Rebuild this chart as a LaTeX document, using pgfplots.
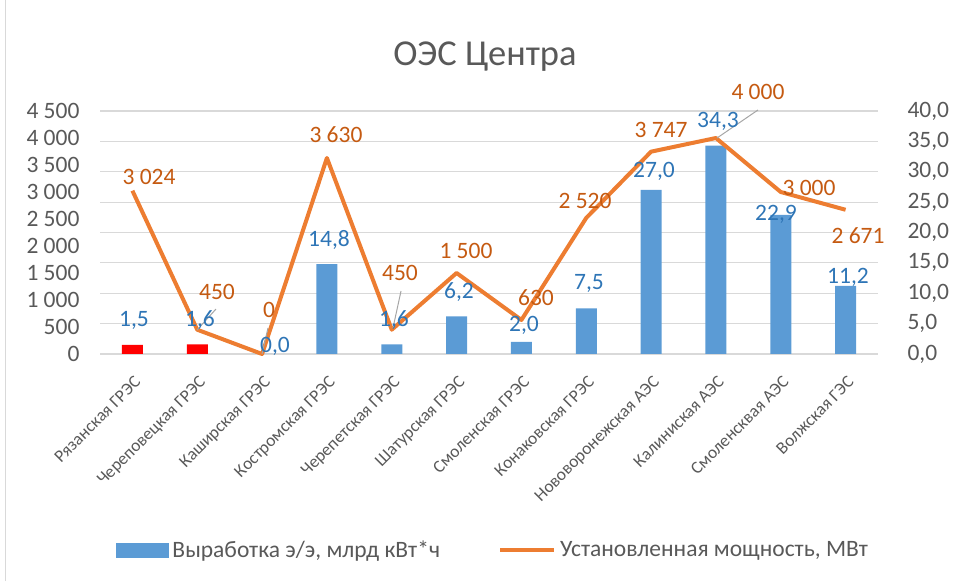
\documentclass[border=0pt]{standalone}
\usepackage{pgfplots}
\pgfplotsset{compat=1.18}
\usepackage{fontspec}
\setmainfont{Carlito}
\definecolor{barblue}{HTML}{5B9BD5}
\definecolor{barred}{HTML}{FF0000}
\definecolor{lineor}{HTML}{ED7D31}
\definecolor{bluelab}{HTML}{2E75B6}
\definecolor{orlab}{HTML}{C55A11}
\definecolor{txtgray}{HTML}{595959}
\definecolor{gridgray}{HTML}{D9D9D9}
\definecolor{leadgray}{HTML}{A6A6A6}
\begin{document}
\begin{tikzpicture}[x=1pt,y=1pt]
\path[use as bounding box] (0,0) rectangle (953,581);
\draw[gridgray, line width=1pt] (5,0) -- (5,581);
\node[txtgray, font=\fontsize{36.5}{40}\selectfont] at (485,524) {ОЭС Центра};
% bars on right axis
\begin{axis}[
  at={(100pt,227pt)}, anchor=south west,
  scale only axis, width=778pt, height=243pt,
  xmin=-0.5, xmax=11.5, ymin=0, ymax=40,
  axis y line*=right, axis x line*=bottom,
  axis line style={draw=none},
  major tick length=0pt,
  ytick={0,5,...,40},
  yticklabels={{0,0},{5,0},{10,0},{15,0},{20,0},{25,0},{30,0},{35,0},{40,0}},
  ymajorgrids, grid style={gridgray, line width=1.2pt},
  /pgf/number format/assume math mode=true,
  yticklabel style={font=\fontsize{23.5}{26}\selectfont, txtgray, anchor=west, xshift=26pt},
  xtick={0,...,11},
  xticklabels={Рязанская ГРЭС,Череповецкая ГРЭС,Каширская ГРЭС,Костромская ГРЭС,Черепетская ГРЭС,Шатурская ГРЭС,Смоленская ГРЭС,Конаковская ГРЭС,Нововоронежская АЭС,Калиниская АЭС,Смоленсквая АЭС,Волжская ГЭС},
  xticklabel style={font=\fontsize{17.5}{19}\selectfont, txtgray, xshift=1pt, yshift=-21pt, inner sep=0pt, rotate=45, anchor=north east},
  clip=false,
]
\addplot[ybar, bar width=21pt, bar shift=0pt, fill=barblue, draw=none] coordinates {
(2,0.0) (3,14.8) (4,1.6) (5,6.2) (6,2.0) (7,7.5) (8,27.0) (9,34.3) (10,22.9) (11,11.2)};
\addplot[ybar, bar width=21pt, bar shift=0pt, fill=barred, draw=none] coordinates {
(0,1.5) (1,1.6)};
\end{axis}
% line on left axis
\begin{axis}[
  at={(100pt,227pt)}, anchor=south west,
  scale only axis, width=778pt, height=243pt,
  xmin=-0.5, xmax=11.5, ymin=0, ymax=4500,
  axis y line*=left, axis x line*=bottom,
  axis line style={draw=none},
  major tick length=0pt,
  xtick=\empty,
  ytick={0,500,...,4500},
  yticklabels={0,500,1 000,1 500,2 000,2 500,3 000,3 500,4 000,4 500},
  /pgf/number format/assume math mode=true,
  yticklabel style={font=\fontsize{23.5}{26}\selectfont, txtgray, anchor=east, xshift=-17pt},
  clip=false,
  legend style={at={(394pt,-196pt)}, anchor=center, draw=none, fill=none,
    legend columns=2, font=\fontsize{23.5}{26}\selectfont, text=txtgray,
    /tikz/every even column/.append style={column sep=54pt},
    nodes={inner xsep=4pt}},
]
\addlegendimage{legend image code/.code={\fill[barblue] (0pt,-7pt) rectangle (52pt,7pt);}}
\addlegendentry{Выработка э/э, млрд кВт*ч}
\addlegendimage{legend image code/.code={\draw[lineor, line width=4pt] (0pt,0pt) -- (54pt,0pt);}}
\addlegendentry{Установленная мощность, МВт}
\addplot[lineor, line width=4pt, line join=round, mark=none] coordinates {
(0,3024) (1,450) (2,0) (3,3630) (4,450) (5,1500) (6,630) (7,2520) (8,3747) (9,4000) (10,3000) (11,2671)};
% leader lines
\draw[leadgray, line width=1pt] (axis cs:1.289,833) -- (axis cs:0.996,444);
\draw[leadgray, line width=1pt] (axis cs:2.091,481) -- (axis cs:1.999,0);
\draw[leadgray, line width=1pt] (axis cs:4.143,1167) -- (axis cs:4.019,481);
\draw[leadgray, line width=1pt] (axis cs:9.649,4519) -- (axis cs:9.017,4000);
% line labels
\begin{scope}[every node/.style={orlab, font=\fontsize{23.5}{26}\selectfont}]
\node at (axis cs:0.256,3278) {3 024};
\node at (axis cs:1.305,1148) {450};
\node at (axis cs:2.107,815) {0};
\node at (axis cs:3.140,4056) {3 630};
\node at (axis cs:4.127,1500) {450};
\node at (axis cs:5.145,1907) {1 500};
\node at (axis cs:6.225,1037) {630};
\node at (axis cs:6.981,2833) {2 520};
\node at (axis cs:8.153,4148) {3 747};
\node at (axis cs:9.649,4852) {4 000};
\node at (axis cs:10.436,3074) {3 000};
\node at (axis cs:11.192,2185) {2 671};
\end{scope}
% bar labels
\begin{scope}[every node/.style={bluelab, font=\fontsize{23.5}{26}\selectfont}]
\node at (axis cs:0.024,630) {1,5};
\node at (axis cs:1.042,630) {1,6};
\node at (axis cs:2.199,148) {0,0};
\node at (axis cs:3.032,2111) {14,8};
\node at (axis cs:4.035,630) {1,6};
\node at (axis cs:5.037,1148) {6,2};
\node at (axis cs:6.040,537) {2,0};
\node at (axis cs:7.042,1315) {7,5};
\node at (axis cs:8.045,3389) {27,0};
\node at (axis cs:9.032,4315) {34,3};
\node at (axis cs:9.927,2593) {22,9};
\node at (axis cs:11.037,1426) {11,2};
\end{scope}
\end{axis}
\end{tikzpicture}
\end{document}
